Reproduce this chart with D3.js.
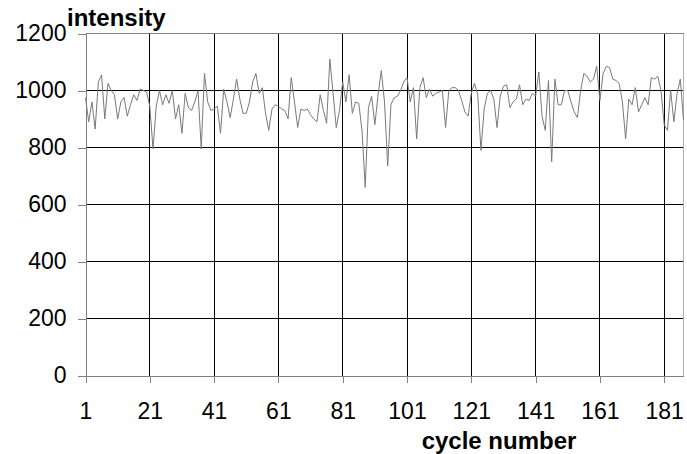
<!DOCTYPE html>
<html>
<head>
<meta charset="utf-8">
<script src="https://cdn.jsdelivr.net/npm/d3@7"></script>
<style>
  body { margin: 0; background: #fff; }
  text { font-family: "Liberation Sans", Arial, sans-serif; }
</style>
</head>
<body>
<svg id="chart" width="687" height="454"></svg>
<script>
const width = 687;
const height = 454;
const margin = {top: 33, right: 4, bottom: 79, left: 85};

// intensity per cycle (cycles 1..187)
const intensity = [
  975, 890, 960, 865, 1030, 1055, 900, 1025, 1000, 985,
  900, 960, 975, 910, 950, 985, 965, 1005, 1000, 995,
  945, 795, 945, 1000, 950, 985, 955, 1000, 900, 950,
  850, 990, 940, 930, 960, 1000, 795, 1060, 960, 930,
  935, 945, 850, 1005, 960, 905, 970, 1040, 970, 920,
  920, 960, 1030, 1060, 990, 1010, 920, 860, 935, 950,
  945, 935, 930, 900, 1045, 960, 870, 935, 930, 935,
  915, 900, 890, 985, 930, 885, 1110, 990, 870, 930,
  1030, 960, 1055, 920, 960, 955, 860, 660, 940, 980,
  880, 985, 1070, 960, 735, 950, 975, 980, 1000, 1030,
  1045, 960, 1010, 830, 1010, 1045, 975, 1005, 980, 990,
  995, 1000, 870, 1000, 1010, 1010, 1000, 965, 925, 910,
  990, 1025, 985, 790, 935, 990, 1000, 970, 870, 980,
  1015, 1020, 940, 960, 970, 1020, 950, 970, 965, 990,
  980, 1065, 910, 860, 1035, 750, 1040, 950, 950, 1000,
  1000, 960, 925, 905, 1000, 1060, 1050, 1030, 1040, 1085,
  965, 1060, 1085, 1080, 1040, 1035, 1025, 960, 830, 970,
  950, 1010, 925, 950, 975, 950, 1045, 1040, 1050, 1000,
  880, 860, 1000, 890, 990, 1040, 895
];
const cycles = intensity.map((d, i) => i + 1);
const xTicks = [1, 21, 41, 61, 81, 101, 121, 141, 161, 181];
const yTicks = [0, 200, 400, 600, 800, 1000, 1200];
const xTitle = "cycle number";
const yTitle = "intensity";

const svg = d3.select("#chart");
const plotW = width - margin.left - margin.right;
const plotH = height - margin.top - margin.bottom;

const x = d3.scaleLinear([1, cycles.length], [margin.left + 0.5, margin.left + plotW + 0.5]);
const y = d3.scaleLinear([0, 1200], [margin.top + plotH + 0.5, margin.top + 0.5]);

// gridlines
const grid = svg.append("g").attr("class", "grid").attr("shape-rendering", "crispEdges");
grid.selectAll("line.h")
  .data(yTicks.filter(d => d > 0))
  .join("line")
    .attr("x1", x.range()[0]).attr("x2", x.range()[1])
    .attr("y1", d => y(d)).attr("y2", d => y(d))
    .attr("stroke", d => d === 1200 ? "#808080" : "#000");
grid.selectAll("line.v")
  .data(xTicks.filter(d => d > 1))
  .join("line")
    .attr("x1", d => x(d)).attr("x2", d => x(d))
    .attr("y1", y.range()[1]).attr("y2", y.range()[0])
    .attr("stroke", "#000");

// right border of plot area
svg.append("line")
  .attr("x1", x.range()[1]).attr("x2", x.range()[1])
  .attr("y1", y.range()[1]).attr("y2", y.range()[0])
  .attr("stroke", "#b0b0b0").attr("shape-rendering", "crispEdges");

// axes
const xAxis = svg.append("g")
  .attr("transform", `translate(0,${y(0)})`)
  .call(d3.axisBottom(x).tickValues(xTicks).tickSizeInner(7).tickSizeOuter(0).tickPadding(20).tickFormat(d3.format("d")));
const yAxis = svg.append("g")
  .attr("transform", `translate(${x(1)},0)`)
  .call(d3.axisLeft(y).tickValues(yTicks).tickSizeInner(8).tickSizeOuter(0).tickPadding(11).tickFormat(d3.format("d")));

[xAxis, yAxis].forEach(a => {
  a.attr("shape-rendering", "crispEdges");
  a.select(".domain").attr("stroke", "#808080");
  a.selectAll(".tick line").attr("stroke", "#808080");
  a.selectAll(".tick text")
    .attr("font-family", "'Liberation Sans', Arial, sans-serif")
    .attr("font-size", 23)
    .attr("fill", "#000");
});
xAxis.selectAll(".tick text").attr("dy", "0.71em");

// series
svg.append("path")
  .datum(intensity)
  .attr("fill", "none")
  .attr("stroke", "#7a7a7a")
  .attr("stroke-width", 1)
  .attr("d", d3.line()
    .x((d, i) => x(cycles[i]))
    .y(d => y(d)));

// titles
svg.append("text")
  .attr("x", 67).attr("y", 26)
  .attr("font-size", 24).attr("font-weight", "bold")
  .text(yTitle);
svg.append("text")
  .attr("x", 499).attr("y", 449)
  .attr("text-anchor", "middle")
  .attr("font-size", 24).attr("font-weight", "bold")
  .text(xTitle);
</script>
</body>
</html>
